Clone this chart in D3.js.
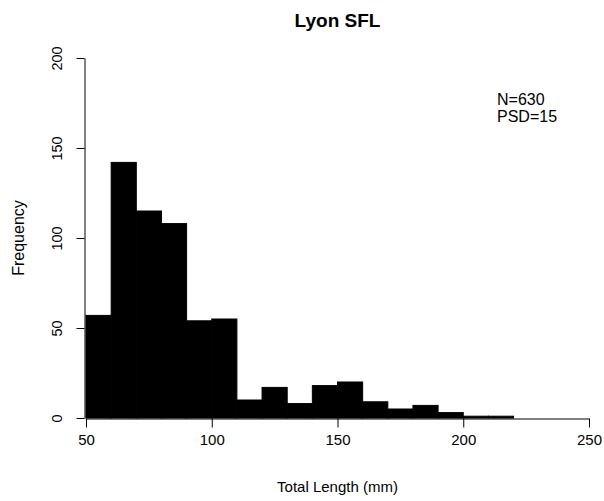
<!DOCTYPE html>
<html>
<head>
<meta charset="utf-8">
<script src="https://cdn.jsdelivr.net/npm/d3@7"></script>
<style>
  body { margin: 0; background: #fff; }
  svg text { font-family: "Liberation Sans", Arial, sans-serif; fill: #000; }
</style>
</head>
<body>
<svg id="chart" width="604" height="501"></svg>
<script>
// Histogram of total length, 10 mm bins
const binStarts = [50, 60, 70, 80, 90, 100, 110, 120, 130, 140, 150, 160, 170, 180, 190, 200, 210];
const binWidth = 10;
const counts = [57, 142, 115, 108, 54, 55, 10, 17, 8, 18, 20, 9, 5, 7, 3, 1, 1];
const xTicks = [50, 100, 150, 200, 250];
const yTicks = [0, 50, 100, 150, 200];
const annotations = ["N=630", "PSD=15"];

const svg = d3.select("#chart");
const plotLeft = 86, plotRight = 589, plotTop = 58, plotBottom = 418;

const x = d3.scaleLinear().domain([50, 250]).range([plotLeft, plotRight]);
const y = d3.scaleLinear().domain([0, 200]).range([plotBottom, plotTop]);

// bars
svg.append("g").selectAll("rect")
  .data(binStarts.map((s, i) => ({ s, c: counts[i] })))
  .join("rect")
  .attr("x", d => x(d.s))
  .attr("y", d => y(d.c))
  .attr("width", d => x(d.s + binWidth) - x(d.s))
  .attr("height", d => y(0) - y(d.c))
  .attr("fill", "#000")
  .attr("stroke", "#000")
  .attr("stroke-width", 1);

// x axis
const xAxis = svg.append("g")
  .attr("transform", `translate(0,${plotBottom + 0.5})`)
  .call(d3.axisBottom(x).tickValues(xTicks).tickSize(9).tickPadding(7).tickSizeOuter(0));
xAxis.select(".domain").attr("stroke", "#000");
xAxis.selectAll("text").attr("font-size", 15);

// y axis with rotated labels
const yAxis = svg.append("g")
  .attr("transform", `translate(${plotLeft - 1.5},0)`)
  .call(d3.axisLeft(y).tickValues(yTicks).tickSize(8).tickSizeOuter(0));
yAxis.select(".domain").attr("stroke", "#000");
yAxis.selectAll("text")
  .attr("font-size", 14.5)
  .attr("text-anchor", "middle")
  .attr("x", 0).attr("dy", 0)
  .attr("transform", "translate(-22.5,0) rotate(-90)");

// title and axis labels
svg.append("text").attr("x", (plotLeft + plotRight) / 2).attr("y", 27)
  .attr("text-anchor", "middle").attr("font-size", 19).attr("font-weight", "bold")
  .text("Lyon SFL");
svg.append("text").attr("x", (plotLeft + plotRight) / 2).attr("y", 492)
  .attr("text-anchor", "middle").attr("font-size", 15)
  .text("Total Length (mm)");
svg.append("text").attr("transform", `translate(24,${(plotTop + plotBottom) / 2}) rotate(-90)`)
  .attr("text-anchor", "middle").attr("font-size", 16)
  .text("Frequency");

// sample size and PSD annotations
svg.append("g").selectAll("text").data(annotations).join("text")
  .attr("x", 497).attr("y", (d, i) => 104.5 + i * 17.5)
  .attr("font-size", 16)
  .text(d => d);
</script>
</body>
</html>
